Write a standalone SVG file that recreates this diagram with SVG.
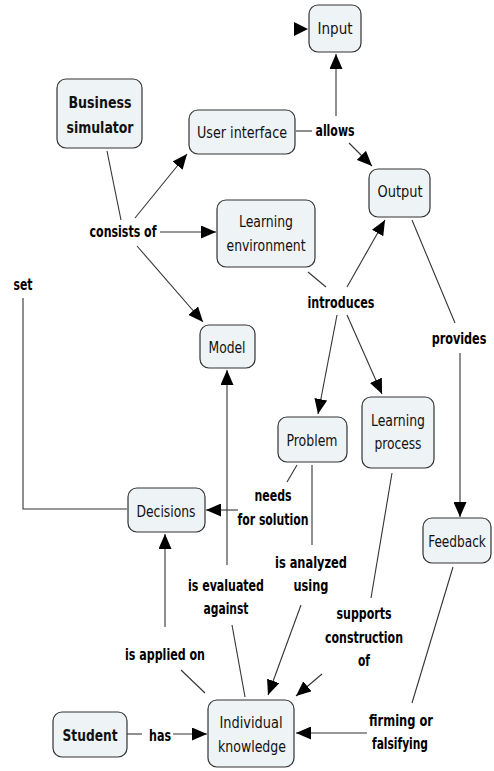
<svg xmlns="http://www.w3.org/2000/svg" width="494" height="771" viewBox="0 0 494 771">
<style>
.n rect{fill:#eef3f5;stroke:#333;stroke-width:1.2}
.n text{font-family:"DejaVu Sans Condensed","DejaVu Sans",sans-serif;font-size:16px;fill:#111;text-anchor:middle}
.n text.b{font-weight:bold}
.l{font-family:"DejaVu Sans Condensed","DejaVu Sans",sans-serif;font-size:16px;font-weight:bold;fill:#000;text-anchor:middle}
#connectors line,#connectors polyline{stroke:#333;stroke-width:1.1;fill:none}
.a{marker-end:url(#ah)}
</style>
<defs>
<marker id="ah" markerUnits="userSpaceOnUse" markerWidth="15" markerHeight="13" refX="15" refY="6.5" orient="auto">
<path d="M0,0 L15,6.5 L0,13 z" fill="#000"/>
</marker>
</defs>
<g id="connectors">
<line x1="107" y1="151" x2="121" y2="220"/>
<line class="a" x1="135" y1="218" x2="187" y2="154"/>
<line class="a" x1="160" y1="232" x2="216" y2="232"/>
<line class="a" x1="137" y1="246" x2="203" y2="322"/>
<line x1="296" y1="131" x2="312" y2="131"/>
<line class="a" x1="336" y1="116" x2="336" y2="54"/>
<line class="a" x1="349" y1="143" x2="372" y2="166"/>
<line x1="308" y1="272" x2="326" y2="287"/>
<line class="a" x1="347" y1="287" x2="385" y2="220"/>
<line class="a" x1="337" y1="315" x2="318" y2="414"/>
<line class="a" x1="347" y1="315" x2="382" y2="394"/>
<line x1="412" y1="220" x2="455" y2="323"/>
<line class="a" x1="460" y1="353" x2="460" y2="517"/>
<line x1="297" y1="465" x2="287" y2="482"/>
<line class="a" x1="238" y1="510" x2="206" y2="510"/>
<line x1="312" y1="465" x2="312" y2="545"/>
<line class="a" x1="301" y1="605" x2="268" y2="695"/>
<line x1="392" y1="473" x2="371" y2="598"/>
<line class="a" x1="322" y1="674" x2="296" y2="696"/>
<line x1="453" y1="567" x2="412" y2="703"/>
<line class="a" x1="367" y1="733" x2="296" y2="733"/>
<line x1="127" y1="734" x2="142" y2="734"/>
<line class="a" x1="173" y1="734" x2="207" y2="734"/>
<line x1="205" y1="693" x2="181" y2="670"/>
<line class="a" x1="165" y1="627" x2="165" y2="534"/>
<line x1="245" y1="697" x2="232" y2="625"/>
<line class="a" x1="227" y1="565" x2="227" y2="370"/>
<polyline points="127,509 23,509 23,298"/>
<path d="M294,22 L308,29 L294,36 z" fill="#000"/>
</g>
<g id="labels">
<text class="l" x="123" y="237" textLength="67" lengthAdjust="spacingAndGlyphs">consists of</text>
<text class="l" x="335" y="136" textLength="39" lengthAdjust="spacingAndGlyphs">allows</text>
<text class="l" x="23" y="290" textLength="19" lengthAdjust="spacingAndGlyphs">set</text>
<text class="l" x="341" y="308" textLength="67" lengthAdjust="spacingAndGlyphs">introduces</text>
<text class="l" transform="translate(459,344) scale(0.75,1)" x="0" y="0" textLength="73" lengthAdjust="spacingAndGlyphs">provides</text>
<text class="l" x="273" y="501" textLength="37" lengthAdjust="spacingAndGlyphs">needs</text>
<text class="l" x="273" y="525" textLength="71" lengthAdjust="spacingAndGlyphs">for solution</text>
<text class="l" x="311" y="568" textLength="72" lengthAdjust="spacingAndGlyphs">is analyzed</text>
<text class="l" x="311" y="591" textLength="35" lengthAdjust="spacingAndGlyphs">using</text>
<text class="l" x="226" y="591" textLength="76" lengthAdjust="spacingAndGlyphs">is evaluated</text>
<text class="l" x="226" y="614" textLength="45" lengthAdjust="spacingAndGlyphs">against</text>
<text class="l" x="364" y="619" textLength="55" lengthAdjust="spacingAndGlyphs">supports</text>
<text class="l" x="364" y="643" textLength="78" lengthAdjust="spacingAndGlyphs">construction</text>
<text class="l" x="364" y="666" textLength="12" lengthAdjust="spacingAndGlyphs">of</text>
<text class="l" x="165" y="660" textLength="80" lengthAdjust="spacingAndGlyphs">is applied on</text>
<text class="l" x="401" y="726" textLength="64" lengthAdjust="spacingAndGlyphs">firming or</text>
<text class="l" x="400" y="749" textLength="56" lengthAdjust="spacingAndGlyphs">falsifying</text>
<text class="l" x="160" y="741" textLength="22" lengthAdjust="spacingAndGlyphs">has</text>
</g>
<g id="input" class="n"><rect x="309" y="5" width="52" height="47" rx="9"/><text x="335" y="34" textLength="35" lengthAdjust="spacingAndGlyphs">Input</text></g>
<g id="business-simulator" class="n"><rect x="57" y="79" width="85" height="69" rx="9"/><text class="b" x="100" y="108" textLength="63" lengthAdjust="spacingAndGlyphs">Business</text><text class="b" x="100" y="133" textLength="67" lengthAdjust="spacingAndGlyphs">simulator</text></g>
<g id="user-interface" class="n"><rect x="189" y="110" width="106" height="44" rx="9"/><text x="242" y="138" textLength="90" lengthAdjust="spacingAndGlyphs">User interface</text></g>
<g id="output" class="n"><rect x="369" y="169" width="61" height="48" rx="9"/><text x="400" y="197" textLength="45" lengthAdjust="spacingAndGlyphs">Output</text></g>
<g id="learning-environment" class="n"><rect x="217" y="200" width="98" height="67" rx="9"/><text x="266" y="227" textLength="54" lengthAdjust="spacingAndGlyphs">Learning</text><text x="266" y="251" textLength="79" lengthAdjust="spacingAndGlyphs">environment</text></g>
<g id="model" class="n"><rect x="200" y="325" width="55" height="43" rx="9"/><text x="227" y="353" textLength="37" lengthAdjust="spacingAndGlyphs">Model</text></g>
<g id="problem" class="n"><rect x="278" y="417" width="69" height="45" rx="9"/><text x="312" y="446" textLength="51" lengthAdjust="spacingAndGlyphs">Problem</text></g>
<g id="learning-process" class="n"><rect x="362" y="397" width="72" height="71" rx="9"/><text x="398" y="426" textLength="54" lengthAdjust="spacingAndGlyphs">Learning</text><text x="398" y="449" textLength="47" lengthAdjust="spacingAndGlyphs">process</text></g>
<g id="decisions" class="n"><rect x="128" y="488" width="77" height="44" rx="9"/><text x="166" y="517" textLength="59" lengthAdjust="spacingAndGlyphs">Decisions</text></g>
<g id="feedback" class="n"><rect x="423" y="518" width="68" height="45" rx="9"/><text transform="translate(457,547) scale(0.75,1)" x="0" y="0" textLength="77" lengthAdjust="spacingAndGlyphs">Feedback</text></g>
<g id="student" class="n"><rect x="53" y="712" width="74" height="45" rx="9"/><text class="b" x="90" y="741" textLength="55" lengthAdjust="spacingAndGlyphs">Student</text></g>
<g id="individual-knowledge" class="n"><rect x="208" y="700" width="86" height="67" rx="9"/><text x="251" y="728" textLength="63" lengthAdjust="spacingAndGlyphs">Individual</text><text x="252" y="752" textLength="68" lengthAdjust="spacingAndGlyphs">knowledge</text></g>
</svg>
